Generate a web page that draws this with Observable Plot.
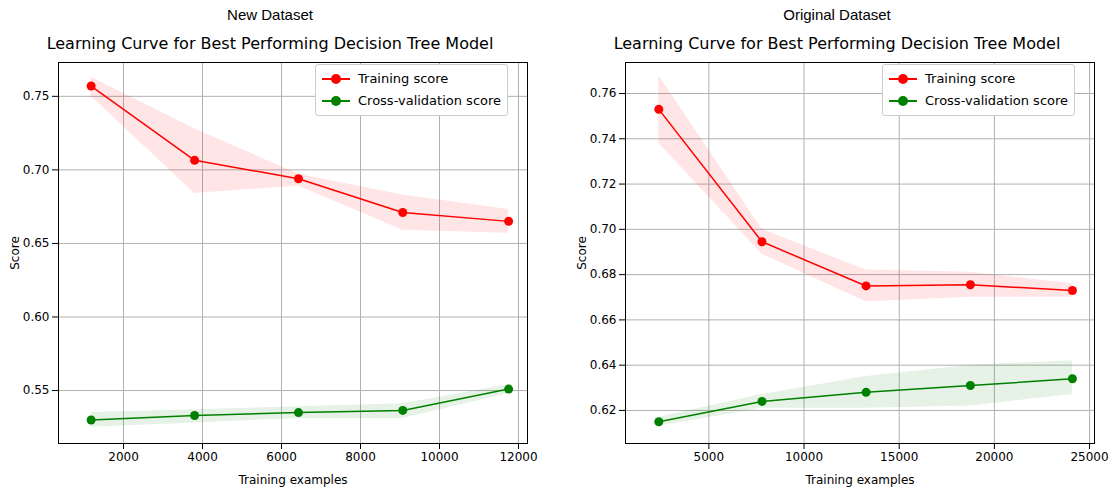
<!DOCTYPE html>
<html><head><meta charset="utf-8">
<script src="https://cdn.jsdelivr.net/npm/d3@7"></script>
<script src="https://cdn.jsdelivr.net/npm/@observablehq/plot@0.6"></script>
<style>
body{margin:0;background:#fff;font-family:"DejaVu Sans",sans-serif;}
.panel{position:absolute;top:0;width:560px;height:496px;}
.sup{position:absolute;top:6px;width:540px;text-align:center;font:15px "Liberation Sans",Arial,sans-serif;}
.ttl{position:absolute;top:34px;width:540px;text-align:center;font-size:16px;}
.plot{position:absolute;top:55px;left:0;}
.leg{position:absolute;background:#fff;border:1px solid #ccc;border-radius:3px;padding:3px 6px;font-size:13px;line-height:22px;}
.leg div{display:flex;align-items:center;}
.sw{position:relative;width:28px;height:2px;margin-right:8px;}
.sw i{position:absolute;left:9px;top:-4px;width:10px;height:10px;border-radius:50%;}
</style></head><body>
<div id="p1" class="panel" style="left:0"></div>
<div id="p2" class="panel" style="left:567px"></div>
<script>
// New dataset
const newSizes = [1180, 3800, 6430, 9070, 11750];
const newTrain = [0.757, 0.7065, 0.694, 0.671, 0.665];
const newTrainLo = [0.750, 0.684, 0.689, 0.659, 0.657];
const newTrainHi = [0.763, 0.728, 0.697, 0.683, 0.673];
const newCv = [0.530, 0.533, 0.535, 0.5365, 0.551];
const newCvLo = [0.525, 0.528, 0.531, 0.531, 0.548];
const newCvHi = [0.535, 0.537, 0.539, 0.541, 0.554];
// Original dataset
const origSizes = [2370, 7790, 13260, 18740, 24100];
const origTrain = [0.753, 0.6945, 0.675, 0.6755, 0.673];
const origTrainLo = [0.738, 0.689, 0.668, 0.670, 0.670];
const origTrainHi = [0.768, 0.700, 0.682, 0.681, 0.676];
const origCv = [0.615, 0.624, 0.628, 0.631, 0.634];
const origCvLo = [0.613, 0.621, 0.621, 0.622, 0.627];
const origCvHi = [0.617, 0.627, 0.635, 0.640, 0.642];

function rows(x, y, lo, hi) {
  return x.map((v, i) => ({x: v, y: y[i], lo: lo[i], hi: hi[i]}));
}

function panel(id, sup, xs, tr, trLo, trHi, cv, cvLo, cvHi, xDom, yDom, yTicks, yFmt, xTicks, legLeft) {
  const el = document.getElementById(id);
  el.innerHTML = `<div class="sup">${sup}</div><div class="ttl">Learning Curve for Best Performing Decision Tree Model</div>`;
  const t = rows(xs, tr, trLo, trHi), c = rows(xs, cv, cvLo, cvHi);
  const chart = Plot.plot({
    width: 552, height: 433,
    marginLeft: 58, marginRight: 25, marginTop: 7, marginBottom: 45,
    style: {fontSize: "12px", fontFamily: "DejaVu Sans"},
    x: {domain: xDom, ticks: xTicks, tickFormat: d3.format("d"), label: "Training examples", labelArrow: "none", labelAnchor: "center", labelOffset: 40},
    y: {domain: yDom, ticks: yTicks, tickFormat: yFmt, label: "Score", labelArrow: "none", labelAnchor: "center", labelOffset: 48},
    marks: [
      Plot.gridX(xTicks, {stroke: "#b0b0b0", strokeOpacity: 1}),
      Plot.gridY(yTicks, {stroke: "#b0b0b0", strokeOpacity: 1}),
      Plot.areaY(t, {x: "x", y1: "lo", y2: "hi", fill: "red", fillOpacity: 0.1}),
      Plot.areaY(c, {x: "x", y1: "lo", y2: "hi", fill: "green", fillOpacity: 0.1}),
      Plot.line(t, {x: "x", y: "y", stroke: "red", strokeWidth: 1.5}),
      Plot.dot(t, {x: "x", y: "y", fill: "red", r: 4.5}),
      Plot.line(c, {x: "x", y: "y", stroke: "green", strokeWidth: 1.5}),
      Plot.dot(c, {x: "x", y: "y", fill: "green", r: 4.5}),
      Plot.frame({stroke: "black"})
    ]
  });
  chart.classList.add("plot");
  el.appendChild(chart);
  const leg = document.createElement("div");
  leg.className = "leg";
  leg.style.left = legLeft + "px"; leg.style.top = "64px";
  leg.innerHTML = `<div><span class="sw" style="background:red"><i style="background:red"></i></span>Training score</div>
<div><span class="sw" style="background:green"><i style="background:green"></i></span>Cross-validation score</div>`;
  el.appendChild(leg);
}

panel("p1", "New Dataset", newSizes, newTrain, newTrainLo, newTrainHi, newCv, newCvLo, newCvHi,
  [354, 12228], [0.514, 0.773], [0.55, 0.60, 0.65, 0.70, 0.75], d3.format(".2f"),
  [2000, 4000, 6000, 8000, 10000, 12000], 315);
panel("p2", "Original Dataset", origSizes, origTrain, origTrainLo, origTrainHi, origCv, origCvLo, origCvHi,
  [620, 25260], [0.6054, 0.7737], [0.62, 0.64, 0.66, 0.68, 0.70, 0.72, 0.74, 0.76], d3.format(".2f"),
  [5000, 10000, 15000, 20000, 25000], 315);
</script>
</body></html>
